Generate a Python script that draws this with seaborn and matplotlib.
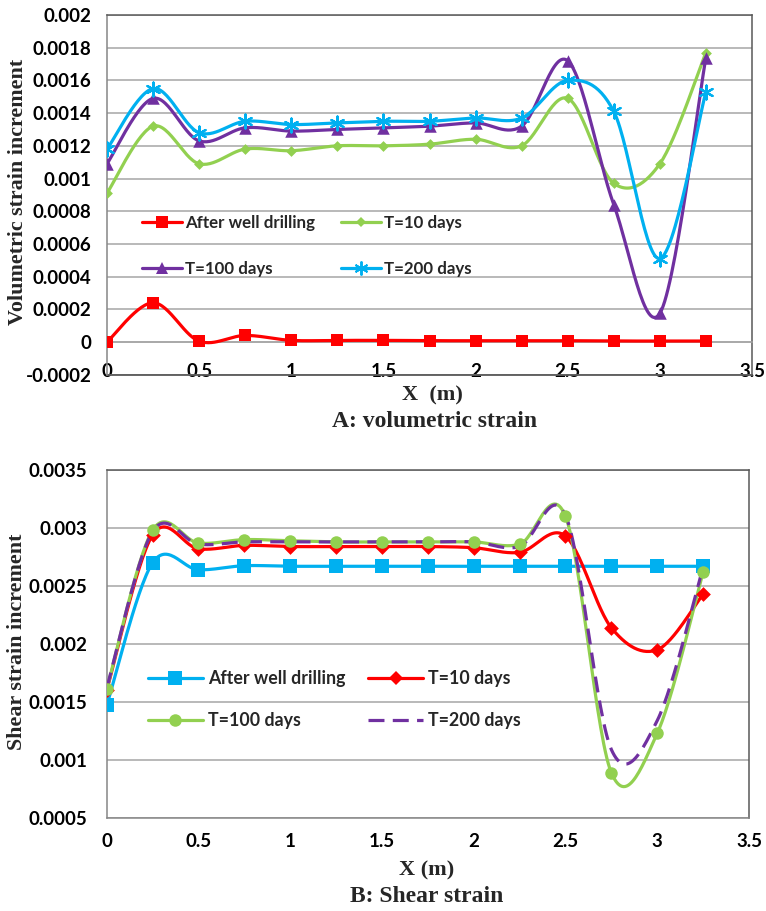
import numpy as np
import matplotlib
matplotlib.use("Agg")
import matplotlib.pyplot as plt
from matplotlib.lines import Line2D
from matplotlib.ticker import FuncFormatter, MultipleLocator
import seaborn as sns

# ---------------- data ----------------
x_pos = [0, 0.25, 0.5, 0.75, 1.0, 1.25, 1.5, 1.75, 2.0, 2.25, 2.5, 2.75, 3.0, 3.25]

# A: volumetric strain increment
vol_after = [0.0, 0.00024, 0.000005, 0.00004, 0.00001, 0.00001, 0.00001, 0.000008,
             0.000008, 0.000008, 0.000008, 0.000006, 0.000006, 0.000006]
vol_t10 = [0.00091, 0.00132, 0.00109, 0.00118, 0.00117, 0.00120, 0.00120, 0.00121,
           0.00124, 0.00120, 0.00149, 0.00097, 0.00109, 0.00177]
vol_t100 = [0.00109, 0.00149, 0.00123, 0.00131, 0.00129, 0.00130, 0.00131, 0.00132,
            0.00134, 0.00132, 0.00172, 0.00084, 0.000175, 0.00174]
vol_t200 = [0.00118, 0.00155, 0.00128, 0.00135, 0.00133, 0.00134, 0.00135, 0.00135,
            0.00137, 0.00137, 0.00160, 0.00141, 0.00051, 0.00153]

# B: shear strain increment
sh_after = [0.00147, 0.00270, 0.00264, 0.002675, 0.00267, 0.00267, 0.00267, 0.00267,
            0.00267, 0.00267, 0.00267, 0.00267, 0.00267, 0.00267]
sh_t10 = [0.00160, 0.00294, 0.00282, 0.00285, 0.00284, 0.00284, 0.00284, 0.00284,
          0.00283, 0.00279, 0.00293, 0.00214, 0.00195, 0.00243]
sh_t100 = [0.00161, 0.00298, 0.00287, 0.00290, 0.00289, 0.00288, 0.00288, 0.00288,
           0.00288, 0.00286, 0.00310, 0.00089, 0.00123, 0.00262]
sh_t200 = [0.00162, 0.00297, 0.00286, 0.00288, 0.00288, 0.00288, 0.00288, 0.00288,
           0.00288, 0.00284, 0.00311, 0.00109, 0.00134, 0.00266]

labels = ["After well drilling", "T=10 days", "T=100 days", "T=200 days"]
x_ticks = [0, 0.5, 1, 1.5, 2, 2.5, 3, 3.5]

# ---------------- style ----------------
sns.set_theme(style="white")
plt.rcParams["font.family"] = ["Lato", "DejaVu Sans"]
plt.rcParams["font.weight"] = "bold"

RED = "#FF0000"
GREEN = "#92D050"
PURPLE = "#7030A0"
BLUE = "#00B0F0"
GRID = "#A6A6A6"
SPINE = "#868686"
LW = 2.3
TICKFONT = 13.5
SERIF = ["Liberation Serif", "DejaVu Serif"]


def excel_smooth(x, y, n=30):
    """Bezier smoothing of the polyline like a spreadsheet 'smoothed line'."""
    x = np.asarray(x, float)
    y = np.asarray(y, float)
    px = np.concatenate([[x[0]], x, [x[-1]]])
    py = np.concatenate([[y[0]], y, [y[-1]]])
    t = np.linspace(0, 1, n, endpoint=False)[:, None]
    xs, ys = [], []
    for i in range(len(x) - 1):
        j = i + 1
        p0 = np.array([px[j], py[j]])
        p3 = np.array([px[j + 1], py[j + 1]])
        p1 = p0 + (p3 - np.array([px[j - 1], py[j - 1]])) / 6.0
        p2 = p3 - (np.array([px[j + 2], py[j + 2]]) - p0) / 6.0
        b = ((1 - t) ** 3) * p0 + 3 * ((1 - t) ** 2) * t * p1 + 3 * (1 - t) * t ** 2 * p2 + t ** 3 * p3
        xs.append(b[:, 0])
        ys.append(b[:, 1])
    xs.append([x[-1]])
    ys.append([y[-1]])
    return np.concatenate(xs), np.concatenate(ys)


def draw_series(ax, x, y, color, marker=None, ms=7, mew=0.0, dashes=None, z=3):
    sx, sy = excel_smooth(x, y)
    sns.lineplot(x=sx, y=sy, sort=False, estimator=None, color=color, lw=LW, ax=ax, zorder=z)
    line = ax.lines[-1]
    if dashes is not None:
        line.set_dashes(dashes)
    line.set_solid_capstyle("round")
    if marker is not None:
        if marker == "ast":
            sns.scatterplot(x=x, y=y, marker=(6, 2, 0), s=ms ** 2, color=color,
                            edgecolor=color, linewidth=1.6, ax=ax, zorder=z + 5)
        else:
            sns.scatterplot(x=x, y=y, marker=marker, s=ms ** 2, color=color,
                            edgecolor=color, linewidth=mew, ax=ax, zorder=z + 5)


def handle(color, marker=None, ms=7, dashes=None):
    if marker == "ast":
        marker = (6, 2, 0)
    h = Line2D([0], [0], color=color, lw=LW, marker=marker, ms=ms,
               markeredgecolor=color, markerfacecolor=color,
               markeredgewidth=1.4 if marker == (6, 2, 0) else 0)
    if dashes is not None:
        h.set_dashes(dashes)
    return h


fmt = FuncFormatter(lambda v, p: "%g" % round(v, 6))

fig = plt.figure(figsize=(7.66, 9.11), dpi=100)
W, H = 766.0, 911.0

# ---------------- A: volumetric ----------------
axA = fig.add_axes([107 / W, 1 - 374.7 / H, 645 / W, 359.7 / H])
draw_series(axA, x_pos, vol_after, RED, "s", ms=8, z=3)
draw_series(axA, x_pos, vol_t10, GREEN, "D", ms=5.5, z=4)
draw_series(axA, x_pos, vol_t100, PURPLE, "^", ms=9, z=5)
draw_series(axA, x_pos, vol_t200, BLUE, "ast", ms=10, z=6)

axA.set_xlim(0, 3.5)
axA.set_ylim(-0.0002, 0.002)
axA.set_xticks(x_ticks)
axA.yaxis.set_major_locator(MultipleLocator(0.0002))
axA.xaxis.set_major_formatter(fmt)
axA.yaxis.set_major_formatter(fmt)
axA.grid(axis="y", color=GRID, lw=1.1)
axA.grid(axis="x", visible=False)
for s in ["top", "right"]:
    axA.spines[s].set_color("#595959")
    axA.spines[s].set_linewidth(1.1)
axA.spines["left"].set_color(SPINE)
axA.spines["left"].set_linewidth(1.1)
axA.spines["bottom"].set_position(("data", 0))
axA.spines["bottom"].set_color(GRID)
axA.spines["bottom"].set_linewidth(1.1)
axA.plot([0, 1], [0, 0], transform=axA.transAxes, color="#595959", lw=1.3, clip_on=False, zorder=2)
axA.tick_params(axis="y", direction="out", length=7, width=1.1, color=SPINE, pad=4,
                labelsize=TICKFONT, labelcolor="black")
axA.tick_params(axis="x", direction="out", length=5, width=1.1, color=GRID, pad=10,
                labelsize=TICKFONT, labelcolor="black")
axA.set_xlabel("")
axA.set_ylabel("")

hA = [handle(RED, "s", 8), handle(PURPLE, "^", 9), handle(GREEN, "D", 5.5), handle(BLUE, "ast", 10)]
lA = [labels[0], labels[2], labels[1], labels[3]]
axA.legend(hA, lA, ncol=2, loc="upper left", bbox_to_anchor=(0.054, 0.445),
           frameon=False, borderpad=0, borderaxespad=0, handlelength=2.35, handletextpad=0.18,
           columnspacing=1.55, labelspacing=1.78,
           prop={"family": ["Lato", "DejaVu Sans"], "weight": "bold", "size": 12.2})

fig.text(18 / W, 1 - 192 / H, "Volumetric strain increment", rotation=90, ha="center", va="center",
         family=SERIF, weight="bold", fontsize=15.8)
fig.text(432 / W, 1 - 395 / H, "X  (m)", ha="center", va="center", family=SERIF, weight="bold", fontsize=16)
fig.text(435 / W, 1 - 422 / H, "A: volumetric strain", ha="center", va="center", family=SERIF,
         weight="bold", fontsize=17)

# ---------------- B: shear ----------------
axB = fig.add_axes([106.7 / W, 1 - 818 / H, 642.3 / W, 348 / H])
draw_series(axB, x_pos, sh_after, BLUE, "s", ms=10, z=3)
draw_series(axB, x_pos, sh_t10, RED, "D", ms=7.5, z=4)
draw_series(axB, x_pos, sh_t100, GREEN, "o", ms=9, z=5)
draw_series(axB, x_pos, sh_t200, PURPLE, None, dashes=(5, 2.6), z=6)

axB.set_xlim(0, 3.5)
axB.set_ylim(0.0005, 0.0035)
axB.set_xticks(x_ticks)
axB.yaxis.set_major_locator(MultipleLocator(0.0005))
axB.xaxis.set_major_formatter(fmt)
axB.yaxis.set_major_formatter(fmt)
axB.grid(axis="y", color=GRID, lw=1.1)
axB.grid(axis="x", visible=False)
for s in ["top", "right"]:
    axB.spines[s].set_color("#595959")
    axB.spines[s].set_linewidth(1.1)
for s in ["left", "bottom"]:
    axB.spines[s].set_color(SPINE)
    axB.spines[s].set_linewidth(1.1)
axB.tick_params(axis="y", direction="out", length=10, width=1.1, color=SPINE, pad=4,
                labelsize=TICKFONT, labelcolor="black")
axB.tick_params(axis="x", direction="out", length=6, width=1.1, color=SPINE, pad=5,
                labelsize=TICKFONT, labelcolor="black")
axB.set_xlabel("")
axB.set_ylabel("")

hB = [handle(BLUE, "s", 10), handle(GREEN, "o", 9), handle(RED, "D", 7.5), handle(PURPLE, None, dashes=(5, 2.6))]
lB = [labels[0], labels[2], labels[1], labels[3]]
axB.legend(hB, lB, ncol=2, loc="upper left", bbox_to_anchor=(0.064, 0.424),
           frameon=False, borderpad=0, borderaxespad=0, handlelength=3.1, handletextpad=0.28,
           columnspacing=1.3, labelspacing=1.4,
           prop={"family": ["Lato", "DejaVu Sans"], "weight": "bold", "size": 12.8})

fig.text(17 / W, 1 - 642 / H, "Shear strain increment", rotation=90, ha="center", va="center",
         family=SERIF, weight="bold", fontsize=15.8)
fig.text(427 / W, 1 - 870 / H, "X (m)", ha="center", va="center", family=SERIF, weight="bold", fontsize=16)
fig.text(427 / W, 1 - 897 / H, "B: Shear strain", ha="center", va="center", family=SERIF,
         weight="bold", fontsize=17)

fig.savefig("out.png", dpi=100)
